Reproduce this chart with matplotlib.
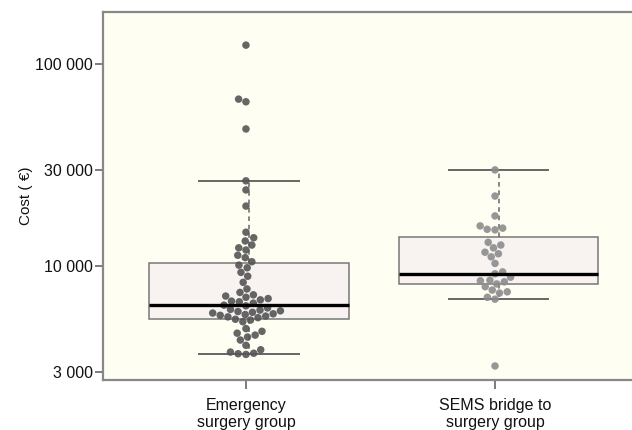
"""
Cost per patient: emergency surgery vs SEMS bridge to surgery
"""

import numpy as np
import pandas as pd
import matplotlib
matplotlib.use("Agg")
import matplotlib.pyplot as plt
import matplotlib.ticker as mticker
import seaborn as sns

# Group labels
groups = ["Emergency\nsurgery group", "SEMS bridge to\nsurgery group"]

# Individual patient costs (EUR)
emergency_cost = [
    124000, 67000, 65000, 47700, 26400, 23800, 19800, 14700, 13800, 13300,
    12700, 12300, 12000, 11300, 11000, 10500, 10100, 9800, 9300, 8900,
    8300, 7700, 7400, 7200, 7100, 7000, 6900, 6800, 6700, 6650,
    6550, 6400, 6350, 6200, 6100, 6050, 6000, 5950, 5900, 5850,
    5800, 5750, 5700, 5650, 5600, 5550, 5450, 5400, 5300, 4900,
    4750, 4650, 4550, 4450, 4300, 4050, 3850, 3750, 3700, 3680, 3650,
]
sems_cost = [
    29900, 22200, 17700, 15800, 15400, 15200, 15100, 13100, 12700, 12300,
    11700, 11500, 11100, 10300, 9350, 9150, 8800, 8500, 8450, 8350,
    8150, 7900, 7600, 7450, 7350, 7000, 6850, 3200,
]

# Box summary (as drawn in the figure)
box_q1 = [5470, 8140]
box_med = [6410, 9160]
box_q3 = [10350, 13900]
box_whislo = [3650, 6850]
box_whishi = [26400, 29900]

# Axis ticks
yticks = [3000, 10000, 30000, 100000]
ytick_labels = ["3 000", "10 000", "30 000", "100 000"]

df = pd.DataFrame({
    "group": [groups[0]] * len(emergency_cost) + [groups[1]] * len(sems_cost),
    "cost": emergency_cost + sems_cost,
})

plt.rcParams["font.family"] = ["Liberation Sans", "DejaVu Sans"]

fig = plt.figure(figsize=(6.32, 4.30), dpi=100, facecolor="white")
ax = fig.add_axes([103 / 632, 50 / 430, 529 / 632, 368 / 430])
ax.set_facecolor("#fefef2")
ax.set_yscale("log")
ax.set_ylim(2727, 180900)
ax.set_xlim(-0.574, 1.55)

# Boxes
stats = []
for i in range(len(groups)):
    stats.append(dict(
        q1=box_q1[i], med=box_med[i], q3=box_q3[i],
        whislo=box_whislo[i], whishi=box_whishi[i], fliers=[],
    ))

ax.bxp(
    stats,
    positions=[0.012, 1.014],
    widths=0.8,
    capwidths=0.4,
    patch_artist=True,
    showfliers=False,
    boxprops=dict(facecolor="#f8f3f1", edgecolor="#777777", linewidth=1.1),
    whiskerprops=dict(color="#666666", linewidth=1.1, linestyle=(0, (3, 2.5))),
    capprops=dict(color="#666666", linewidth=1.4),
    medianprops=dict(color="black", linewidth=2.4, zorder=5),
    manage_ticks=False,
    zorder=1,
)

# Swarm of individual patients
sns.swarmplot(
    data=df,
    x="group",
    y="cost",
    hue="group",
    palette=["#555555", "#8c8c8c"],
    size=5.4,
    alpha=0.9,
    linewidth=0,
    legend=False,
    ax=ax,
    zorder=3,
)

ax.set_xlim(-0.574, 1.55)
ax.set_ylim(2727, 180900)

# Axis styling
ax.yaxis.set_major_locator(mticker.FixedLocator(yticks))
ax.yaxis.set_major_formatter(mticker.FixedFormatter(ytick_labels))
ax.yaxis.set_minor_locator(mticker.NullLocator())
ax.set_xticks([0, 1])
ax.set_xticklabels(groups)

for side in ["top", "left", "bottom"]:
    ax.spines[side].set_color("#888888")
    ax.spines[side].set_linewidth(1.6)
ax.spines["right"].set_visible(False)

ax.tick_params(axis="y", length=6, width=1.2, color="#666666",
               labelsize=11.5, labelcolor="#111111", pad=1.5)
ax.tick_params(axis="x", length=6.5, width=1.2, color="#666666",
               labelsize=11.5, labelcolor="#111111", pad=6.5)

ax.set_xlabel("")
ax.set_ylabel("Cost ( \u20ac)", fontsize=11, color="#111111", labelpad=1)

fig.savefig("out.png", dpi=100, facecolor="white")
